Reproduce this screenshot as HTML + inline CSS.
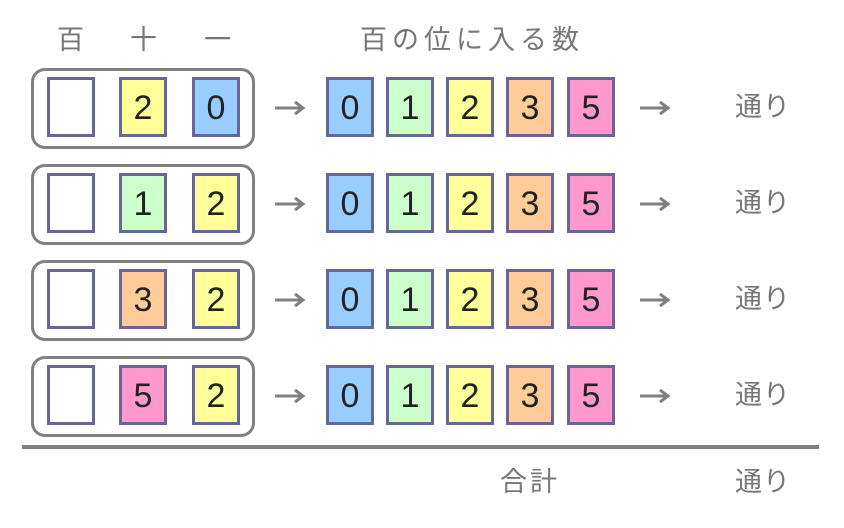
<!DOCTYPE html>
<html><head><meta charset="utf-8"><style>
body{margin:0;width:844px;height:528px;background:#fff;position:relative;overflow:hidden;font-family:"Liberation Sans","Noto Sans CJK JP",sans-serif}
.t{position:absolute;color:#777;font-size:27px;line-height:30px;white-space:nowrap}
.row{position:absolute;left:0;width:844px;height:100px}
.g{position:absolute;left:31px;top:0;width:218px;height:75px;border:3px solid #808080;border-radius:14px}
.c{position:absolute;top:9px;width:42px;height:54px;border:3px solid #666699;font-size:34px;line-height:56px;text-align:center;color:#222;font-family:"Liberation Sans",sans-serif}
.a{position:absolute;top:32px;width:32px;height:16px}
.w{position:absolute;left:735px;top:24px;font-size:27px;color:#777;line-height:30px;letter-spacing:1px}
.B{background:#99ccff}.G{background:#ccffcc}.Y{background:#ffff99}.O{background:#ffcc99}.P{background:#ff99cc}.W{background:#fff}
</style></head><body>
<div class="t" style="left:57px;top:25px">百</div>
<div class="t" style="left:130px;top:25px">十</div>
<div class="t" style="left:204px;top:25px">一</div>
<div class="t" style="left:360px;top:25px;letter-spacing:5px">百の位に入る数</div>

<div class="row" style="top:68px"><div class="g"></div>
<div class="c W" style="left:47px"></div><div class="c Y" style="left:119px">2</div><div class="c B" style="left:192px">0</div>
<svg class="a" style="left:274px"><path d="M1 8H29M21 2L29 8L21 14" stroke="#808080" stroke-width="3" fill="none"/></svg>
<div class="c B" style="left:326px">0</div><div class="c G" style="left:386px">1</div><div class="c Y" style="left:446px">2</div><div class="c O" style="left:506px">3</div><div class="c P" style="left:567px">5</div>
<svg class="a" style="left:639px"><path d="M1 8H29M21 2L29 8L21 14" stroke="#808080" stroke-width="3" fill="none"/></svg><div class="w">通り</div></div>

<div class="row" style="top:164px"><div class="g"></div>
<div class="c W" style="left:47px"></div><div class="c G" style="left:119px">1</div><div class="c Y" style="left:192px">2</div>
<svg class="a" style="left:274px"><path d="M1 8H29M21 2L29 8L21 14" stroke="#808080" stroke-width="3" fill="none"/></svg>
<div class="c B" style="left:326px">0</div><div class="c G" style="left:386px">1</div><div class="c Y" style="left:446px">2</div><div class="c O" style="left:506px">3</div><div class="c P" style="left:567px">5</div>
<svg class="a" style="left:639px"><path d="M1 8H29M21 2L29 8L21 14" stroke="#808080" stroke-width="3" fill="none"/></svg><div class="w">通り</div></div>

<div class="row" style="top:260px"><div class="g"></div>
<div class="c W" style="left:47px"></div><div class="c O" style="left:119px">3</div><div class="c Y" style="left:192px">2</div>
<svg class="a" style="left:274px"><path d="M1 8H29M21 2L29 8L21 14" stroke="#808080" stroke-width="3" fill="none"/></svg>
<div class="c B" style="left:326px">0</div><div class="c G" style="left:386px">1</div><div class="c Y" style="left:446px">2</div><div class="c O" style="left:506px">3</div><div class="c P" style="left:567px">5</div>
<svg class="a" style="left:639px"><path d="M1 8H29M21 2L29 8L21 14" stroke="#808080" stroke-width="3" fill="none"/></svg><div class="w">通り</div></div>

<div class="row" style="top:356px"><div class="g"></div>
<div class="c W" style="left:47px"></div><div class="c P" style="left:119px">5</div><div class="c Y" style="left:192px">2</div>
<svg class="a" style="left:274px"><path d="M1 8H29M21 2L29 8L21 14" stroke="#808080" stroke-width="3" fill="none"/></svg>
<div class="c B" style="left:326px">0</div><div class="c G" style="left:386px">1</div><div class="c Y" style="left:446px">2</div><div class="c O" style="left:506px">3</div><div class="c P" style="left:567px">5</div>
<svg class="a" style="left:639px"><path d="M1 8H29M21 2L29 8L21 14" stroke="#808080" stroke-width="3" fill="none"/></svg><div class="w">通り</div></div>

<div style="position:absolute;left:22px;top:445px;width:797px;height:4px;background:#808080"></div>
<div class="t" style="left:500px;top:467px;letter-spacing:3px">合計</div>
<div class="t" style="left:735px;top:467px;letter-spacing:1px">通り</div>
</body></html>
